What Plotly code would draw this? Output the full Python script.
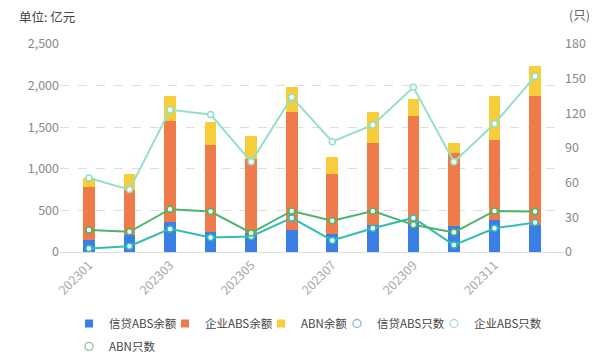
import plotly.graph_objects as go

months = ["202301", "202302", "202303", "202304", "202305", "202306",
          "202307", "202308", "202309", "202310", "202311", "202312"]
tick_labels = ["202301", "202303", "202305", "202307", "202309", "202311"]

credit_abs_bal = [150, 205, 365, 245, 230, 265, 215, 325, 345, 315, 390, 325]
corp_abs_bal = [635, 540, 1210, 1040, 885, 1420, 720, 990, 1290, 870, 955, 1545]
abn_bal = [100, 190, 300, 280, 280, 300, 210, 365, 200, 120, 530, 370]

credit_abs_cnt = [3, 5, 20, 12.5, 13.5, 29.5, 10, 20.5, 29.5, 6, 20.5, 25.5]
corp_abs_cnt = [64, 54, 123, 119, 78, 134, 95.5, 110, 142.5, 78, 111, 152]
abn_cnt = [19, 17.5, 37, 35, 16.5, 35.5, 27, 35.5, 23.5, 17, 35.5, 35]

C_BLUE = "#3a7fe6"
C_ORANGE = "#f07b4a"
C_YELLOW = "#f5ce3a"
C_TEAL = "#33bcb2"
C_MINT = "#93e0c9"
C_GREEN = "#4eb46a"

FONT = "Noto Sans CJK SC"

# one legend box per entry so that entries sit where the reference has them
legend_ids = ["legend", "legend2", "legend3", "legend4", "legend5", "legend6"]
legend_pos = [(0.0179, -0.274), (0.2083, -0.274), (0.3988, -0.274),
              (0.5496, -0.274), (0.7421, -0.274), (0.0179, -0.384)]

fig = go.Figure()
for i, (name, vals, col) in enumerate([("信贷ABS余额", credit_abs_bal, C_BLUE),
                                       ("企业ABS余额", corp_abs_bal, C_ORANGE),
                                       ("ABN余额", abn_bal, C_YELLOW)]):
    lid = legend_ids[i]
    fig.add_trace(go.Bar(x=months, y=vals, name=name, marker_color=col,
                         marker_line_width=0, yaxis="y", showlegend=False,
                         legendgroup=name, legend=lid))
    fig.add_trace(go.Scatter(x=[None], y=[None], name=name, mode="markers",
                             marker=dict(symbol="square", size=8, color=col),
                             yaxis="y", legendgroup=name, legend=lid))

for j, (name, vals, col, lcol) in enumerate(
        [("信贷ABS只数", credit_abs_cnt, C_TEAL, "#8fb8c4"),
         ("企业ABS只数", corp_abs_cnt, C_MINT, "#a9dccd"),
         ("ABN只数", abn_cnt, C_GREEN, "#8cbf98")]):
    lid = legend_ids[3 + j]
    fig.add_trace(go.Scatter(x=months, y=vals, name=name, mode="lines+markers",
                             line=dict(color=col, width=2),
                             marker=dict(symbol="circle", size=6, color="white",
                                         line=dict(color=col, width=1.5)),
                             yaxis="y2", showlegend=False, legendgroup=name,
                             legend=lid))
    fig.add_trace(go.Scatter(x=[None], y=[None], name=name, mode="markers",
                             marker=dict(symbol="circle-open", size=8,
                                         color=lcol, line=dict(width=1.3)),
                             yaxis="y2", legendgroup=name, legend=lid))

legend_layout = {}
for lid, (lx, ly) in zip(legend_ids, legend_pos):
    legend_layout[lid] = dict(orientation="h", x=lx, xanchor="left", y=ly,
                              yanchor="top", bgcolor="rgba(0,0,0,0)",
                              font=dict(size=11.5, color="#444444", family=FONT),
                              itemwidth=30)

fig.update_layout(
    width=612, height=361,
    margin=dict(l=52, r=56, t=36, b=117, autoexpand=False),
    paper_bgcolor="white", plot_bgcolor="white",
    barmode="stack", bargap=0.71,
    font=dict(family=FONT, size=12, color="#888888"),
    showlegend=True,
    xaxis=dict(type="category", tickmode="array", tickvals=tick_labels,
               ticktext=tick_labels, tickangle=-45, showgrid=False,
               showline=True, linecolor="#dddddd", linewidth=1, automargin=False,
               ticks="", tickfont=dict(size=12.5, color="#aaaaaa")),
    yaxis=dict(range=[0, 2500], tickvals=[0, 500, 1000, 1500, 2000, 2500],
               tickformat=",", showgrid=True, gridcolor="#dddddd", automargin=False,
               griddash="dash", gridwidth=1, zeroline=False,
               tickfont=dict(size=12.5, color="#888888")),
    yaxis2=dict(range=[0, 180], tickvals=[0, 30, 60, 90, 120, 150, 180],
                overlaying="y", side="right", showgrid=False, zeroline=False,
                automargin=False, tickfont=dict(size=12.5, color="#888888")),
    annotations=[
        dict(text="单位: 亿元", xref="paper", yref="paper", x=-0.0853, y=1.13,
             xanchor="left", yanchor="middle", showarrow=False,
             font=dict(size=12.5, color="#444444", family=FONT)),
        dict(text="(只)", xref="paper", yref="paper", x=1.006, y=1.14,
             xanchor="left", yanchor="middle", showarrow=False,
             font=dict(size=12.5, color="#666666", family=FONT)),
    ],
    **legend_layout,
)

fig.write_html("out.html")
